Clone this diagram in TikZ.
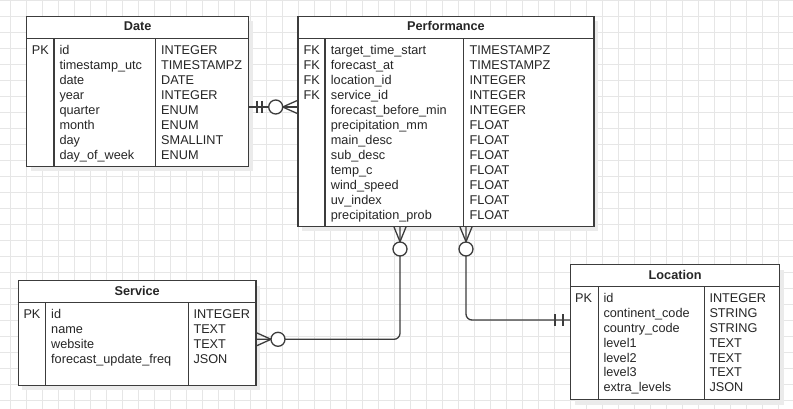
\documentclass[tikz,border=0pt]{standalone}
\usepackage{fontspec}
\setmainfont{Liberation Sans}
\usetikzlibrary{shadows}
\definecolor{linegrey}{HTML}{3C3C3C}
\definecolor{textgrey}{HTML}{262626}
\definecolor{gridgrey}{HTML}{E6E6E6}
\definecolor{shadowgrey}{HTML}{EBEBEB}
\begin{document}
\begin{tikzpicture}
[x=1pt,y=-1pt,
  tablebox/.style={draw=linegrey,line width=1.3pt,fill=white,inner sep=0pt,
    anchor=north west,drop shadow={shadow xshift=4pt,shadow yshift=-5pt,
    fill=shadowgrey,opacity=1}},
  tableline/.style={draw=linegrey,line width=1.3pt},
  headtext/.style={anchor=base,inner sep=0pt,text=textgrey,
    font=\fontsize{12.7}{15}\selectfont\bfseries},
  celltext/.style={anchor=base west,inner sep=0pt,text=textgrey,
    font=\fontsize{12.7}{15}\selectfont},
  gridline/.style={draw=gridgrey,line width=0.7pt},
  connector/.style={draw=linegrey,line width=1.3pt},
  markcircle/.style={draw=linegrey,line width=1.3pt,fill=white}]
%% background and grid
\fill[white] (0,0) rectangle (793,409);
\useasboundingbox (0,0) rectangle (793,409);
\foreach \gx in {0,...,48}
  \draw[gridline] ({10.3+16*\gx},0) -- ({10.3+16*\gx},409);
\foreach \gy in {0,...,25}
  \draw[gridline] (0,{0.7+16*\gy}) -- (793,{0.7+16*\gy});
%% tables
\node[tablebox,minimum width=222pt,minimum height=150pt] (date) at (26,15.7) {};
\node[tablebox,minimum width=296pt,minimum height=210pt] (perf) at (297.3,15.7) {};
\node[tablebox,minimum width=237.6pt,minimum height=104.7pt] (svc) at (17.7,280) {};
\node[tablebox,minimum width=209pt,minimum height=135pt] (loc) at (570,264) {};
\foreach \tab/\head/\keyx/\typex in {date/23/28/129.7, perf/22.6/27.7/166,
  svc/22.7/28/170.6, loc/22.7/28.3/134.3}
{
  \draw[tableline] ([yshift=-\head pt]\tab.north west)
    -- ([yshift=-\head pt]\tab.north east);
  \draw[tableline] ([xshift=\keyx pt,yshift=-\head pt]\tab.north west)
    -- ([xshift=\keyx pt]\tab.south west);
  \draw[tableline] ([xshift=\typex pt,yshift=-\head pt]\tab.north west)
    -- ([xshift=\typex pt]\tab.south west);
}
\node[headtext] (datehead) at ([yshift=-15.3pt]date.north) {Date};
\node[headtext] (perfhead) at ([yshift=-15.3pt]perf.north) {Performance};
\node[headtext] (svchead) at ([yshift=-15.3pt]svc.north) {Service};
\node[headtext] (lochead) at ([yshift=-15.3pt]loc.north) {Location};
%% Date rows
\node[celltext] (datek0) at (31.7,54.3) {PK};
\foreach \fname/\ftype [count=\i from 0] in {id/INTEGER,
  timestamp\_utc/TIMESTAMPZ, date/DATE, year/INTEGER, quarter/ENUM,
  month/ENUM, day/SMALLINT, day\_of\_week/ENUM}
{
  \node[celltext] (daten\i) at (59.3,{54.3+15*\i}) {\fname};
  \node[celltext] (datet\i) at (161,{54.3+15*\i}) {\ftype};
}
%% Performance rows
\foreach \i in {0,...,3}
  \node[celltext] (perfk\i) at (303.3,{54.3+15*\i}) {FK};
\foreach \fname/\ftype [count=\i from 0] in {
  target\_time\_start/TIMESTAMPZ, forecast\_at/TIMESTAMPZ,
  location\_id/INTEGER, service\_id/INTEGER,
  forecast\_before\_min/INTEGER, precipitation\_mm/FLOAT,
  main\_desc/FLOAT, sub\_desc/FLOAT, temp\_c/FLOAT, wind\_speed/FLOAT,
  uv\_index/FLOAT, precipitation\_prob/FLOAT}
{
  \node[celltext] (perfn\i) at (330.7,{54.3+15*\i}) {\fname};
  \node[celltext] (perft\i) at (469.3,{54.3+15*\i}) {\ftype};
}
%% Service rows
\node[celltext] (svck0) at (23.3,318.7) {PK};
\foreach \fname/\ftype [count=\i from 0] in {id/INTEGER, name/TEXT,
  website/TEXT, forecast\_update\_freq/JSON}
{
  \node[celltext] (svcn\i) at (51,{318.7+15*\i}) {\fname};
  \node[celltext] (svct\i) at (193.3,{318.7+15*\i}) {\ftype};
}
%% Location rows
\node[celltext] (lock0) at (575,302.7) {PK};
\foreach \fname/\ftype [count=\i from 0] in {id/INTEGER,
  continent\_code/STRING, country\_code/STRING, level1/TEXT, level2/TEXT,
  level3/TEXT, extra\_levels/JSON}
{
  \node[celltext] (locn\i) at (603.3,{302.7+14.85*\i}) {\fname};
  \node[celltext] (loct\i) at (709.3,{302.7+14.85*\i}) {\ftype};
}
%% Date -- Performance
\coordinate (dateport) at ([yshift=-91.3pt]date.north east);
\coordinate (perfin) at (dateport -| perf.west);
\draw[connector] (dateport) -- (perfin);
\draw[connector] ([xshift=7.7pt,yshift=6pt]dateport)
  -- ([xshift=7.7pt,yshift=-6pt]dateport);
\draw[connector] ([xshift=12.7pt,yshift=6pt]dateport)
  -- ([xshift=12.7pt,yshift=-6pt]dateport);
\draw[connector] ([yshift=6.5pt]perfin) -- ([xshift=-14.6pt]perfin)
  -- ([yshift=-6.5pt]perfin);
\draw[markcircle] ([xshift=-21.6pt]perfin) circle[radius=7pt];
%% Performance -- Service
\coordinate (perfsvc) at ([xshift=102.7pt]perf.south west);
\coordinate (svcin) at ([yshift=-59.3pt]svc.north east);
\draw[connector,rounded corners=6pt] (perfsvc) |- (svcin);
\draw[connector] ([xshift=-6pt]perfsvc) -- ([yshift=-14.7pt]perfsvc)
  -- ([xshift=6pt]perfsvc);
\draw[markcircle] ([yshift=-22pt]perfsvc) circle[radius=7pt];
\draw[connector] ([yshift=6.5pt]svcin) -- ([xshift=14.4pt]svcin)
  -- ([yshift=-6.5pt]svcin);
\draw[markcircle] ([xshift=21.4pt]svcin) circle[radius=7pt];
%% Performance -- Location
\coordinate (perfloc) at ([xshift=168.7pt]perf.south west);
\coordinate (locin) at ([yshift=-56pt]loc.north west);
\draw[connector,rounded corners=6pt] (perfloc) |- (locin);
\draw[connector] ([xshift=-6pt]perfloc) -- ([yshift=-14.7pt]perfloc)
  -- ([xshift=6pt]perfloc);
\draw[markcircle] ([yshift=-22pt]perfloc) circle[radius=7pt];
\draw[connector] ([xshift=-15pt,yshift=6pt]locin)
  -- ([xshift=-15pt,yshift=-6pt]locin);
\draw[connector] ([xshift=-7pt,yshift=6pt]locin)
  -- ([xshift=-7pt,yshift=-6pt]locin);
\end{tikzpicture}
\end{document}
